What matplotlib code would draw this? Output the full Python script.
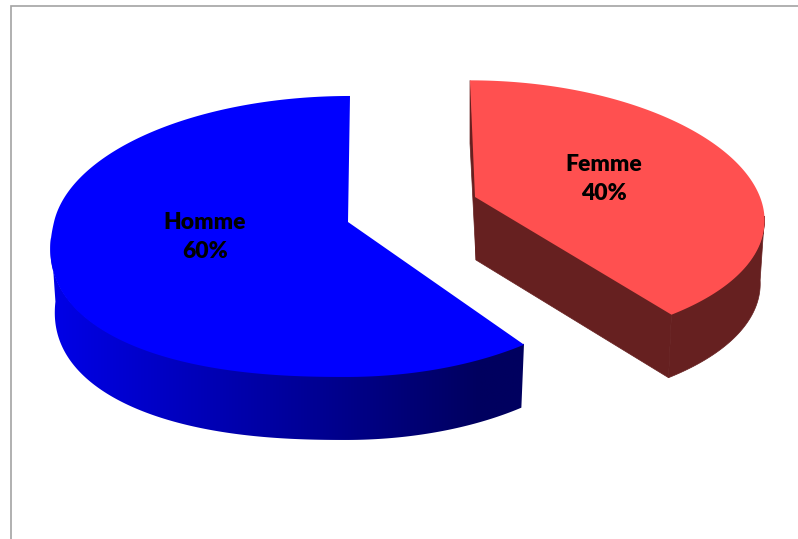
import numpy as np
from matplotlib import pyplot as plt
from matplotlib.patches import Polygon

# Dane wykresu
labels = ['Homme', 'Femme']
shares = [60, 40]
top_colors = ['#0000ff', '#ff5050']

# Uklad w pikselach obrazka
W, H = 798, 539
DEPTH = 63
BOTTOM_SCALE = 0.985
RED_SIDE = '#662020'

# apex x, apex y, promien lewy, promien prawy, a, k (y), k (x), skos, wypelnienie luku, start boku
geom = {
    'Homme': (348, 222, 294, 277, 139, 0.103, 0.103, 2, 0.85, -0.08),
    'Femme': (475, 197, 285, 285, 131, 0.123, 0.16, -5, 1.0, -0.15),
}
label_pos = {'Homme': (205, 237), 'Femme': (604, 179)}


def project(theta, g, bottom=False):
    # kat liczony od gory zgodnie z ruchem wskazowek zegara
    x0, y0, b_left, b_right, a, k, kx, s, p, _ = g
    u = np.sin(theta)
    v = np.cos(theta)
    # lewy dolny luk Homme jest pelniejszy niz elipsa
    q = (u < 0) & (v < 0)
    u = np.where(q, -np.abs(u) ** p, u)
    v = np.where(q, -np.abs(v) ** p, v)
    b = np.where(u < 0, b_left, b_right)
    x = b * u / (1 + kx * v) + s * v
    y = -a * v / (1 + k * v)
    if bottom:
        return x0 + x * BOTTOM_SCALE, y0 + y + DEPTH
    return x0 + x, y0 + y


fig = plt.figure(figsize=(W / 100, H / 100), dpi=100)
ax = fig.add_axes([0, 0, 1, 1])
ax.axis('off')

# ramka obszaru wykresu
ax.plot([10.5, 10.5, W], [H, 5.5, 5.5], color='#a3a3a3', lw=1.2, solid_joinstyle='miter')

total = sum(shares)
for label, share, color in zip(labels, shares, top_colors):
    g = geom[label]
    span = 2 * np.pi * share / total
    # Homme idzie od gory w lewo, Femme od gory w prawo
    if label == 'Homme':
        theta = np.linspace(-span, 0, 300)
    else:
        theta = np.linspace(0, span, 300)

    x_top, y_top = project(theta, g)
    xa, ya = g[0], g[1]

    # bok rysowany tylko na przedniej czesci luku
    front = theta[np.cos(theta) < g[9]]
    xf, yf = project(front, g)
    xb, yb = project(front, g, bottom=True)
    side = np.c_[np.r_[xf, xb[::-1]], np.r_[yf - 1, yb[::-1]]]

    if label == 'Femme':
        x_bot, y_bot = project(theta, g, bottom=True)
        # sciany przekroju
        ax.fill([x_top[0], xa + 2, xa + 1, x_top[0]],
                [y_top[0], ya, ya + DEPTH, y_top[0] + DEPTH],
                color=RED_SIDE, lw=0.5, zorder=2)
        ax.fill([xa, x_top[-1], x_bot[-1], xa + 1],
                [ya - 2, y_top[-1] - 2, y_bot[-1], ya + DEPTH],
                color=RED_SIDE, lw=0.5, zorder=2)
        ax.fill(side[:, 0], side[:, 1], color=RED_SIDE, lw=0.5, zorder=3)
    else:
        # gradient boku: jasny z lewej, ciemny z prawej
        xs = np.linspace(side[:, 0].min(), side[:, 0].max(), 256)
        t = np.clip((xs - 50) / 430, 0, 1)
        grad = np.zeros((1, 256, 3))
        grad[0, :, 2] = (232 - 137 * t) / 255
        im = ax.imshow(grad, extent=(xs[0], xs[-1], side[:, 1].max(), side[:, 1].min()),
                       aspect='auto', interpolation='bilinear', zorder=3)
        im.set_clip_path(Polygon(side, closed=True, transform=ax.transData))

    # wierzch
    ax.fill(np.r_[xa, x_top], np.r_[ya, y_top], color=color, lw=0, zorder=4)

    px, py = label_pos[label]
    ax.text(px, py, f'{label}\n{share}%', ha='center', va='center', color='black',
            fontsize=16.5, fontweight='heavy', family='Lato', linespacing=1.5, zorder=5)

ax.set_xlim(0, W)
ax.set_ylim(H, 0)

fig.savefig('out.png', dpi=100)
